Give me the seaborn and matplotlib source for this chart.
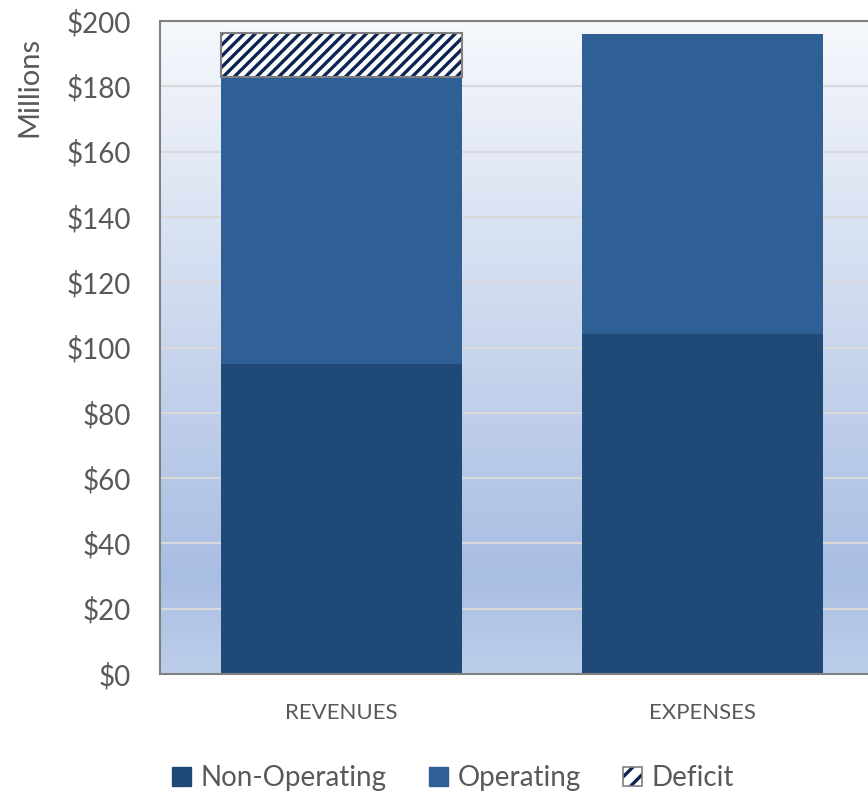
import seaborn as sns
import pandas as pd
import matplotlib.pyplot as plt
import matplotlib.patches as mpatches
from matplotlib.legend_handler import HandlerTuple
from matplotlib.colors import LinearSegmentedColormap
import numpy as np

# values in millions
categories = ["REVENUES", "EXPENSES"]
non_operating = [95.0, 104.2]
operating = [87.7, 91.8]
deficit = [13.7, 0.0]
y_ticks = [0, 20, 40, 60, 80, 100, 120, 140, 160, 180, 200]

dark_blue = "#1F4A78"
mid_blue = "#2E6095"
navy = "#0C2454"
text_grey = "#595959"
edge_grey = "#7F7F7F"

sns.set_style("white")
plt.rcParams["font.family"] = ["Lato", "DejaVu Sans"]
plt.rcParams["hatch.linewidth"] = 2.4

df = pd.DataFrame({"category": categories, "non_operating": non_operating,
                   "operating": operating, "deficit": deficit})
df["op_bottom"] = df["non_operating"]
df["def_bottom"] = df["non_operating"] + df["operating"]

fig = plt.figure(figsize=(8.68, 7.94), dpi=100)
# right side of the plot area runs off the canvas, like the reference crop
ax = fig.add_axes([160 / 868, 120 / 794, 723.5 / 868, 653 / 794])

sns.barplot(ax=ax, data=df, x="category", y="non_operating", order=categories,
            color=dark_blue, width=0.668, saturation=1, linewidth=0, zorder=3)
sns.barplot(ax=ax, data=df, x="category", y="operating", order=categories,
            bottom=df["op_bottom"].values, color=mid_blue, width=0.668,
            saturation=1, linewidth=0, zorder=3)

# deficit only exists on the revenue side
df_def = df[df["deficit"] > 0]
sns.barplot(ax=ax, data=df_def, x="category", y="deficit", order=categories,
            bottom=df_def["def_bottom"].values, color="white", width=0.668,
            saturation=1, hatch="///", edgecolor=navy, linewidth=0, zorder=3)
sns.barplot(ax=ax, data=df_def, x="category", y="deficit", order=categories,
            bottom=df_def["def_bottom"].values, fill=False, width=0.668,
            edgecolor=edge_grey, linewidth=1.5, zorder=4)

ax.set_xlim(-0.503, 1.503)
ax.set_ylim(0, 200)

# gradient background of the plot area
grad = LinearSegmentedColormap.from_list(
    "bg", [(0.0, "#BDCEEA"), (0.15, "#A9BEE3"), (1.0, "#F6F8FC")])
ax.imshow(np.linspace(0, 1, 256).reshape(-1, 1), cmap=grad, aspect="auto",
          extent=[-0.503, 1.503, 0, 200], origin="lower", zorder=0)

ax.set_yticks(y_ticks)
ax.set_yticklabels([f"${v}" for v in y_ticks])
ax.yaxis.grid(True, color="#D9D9D9", linewidth=1.5, zorder=1)
ax.set_axisbelow(False)
for gl in ax.get_ygridlines():
    gl.set_zorder(1)

ax.tick_params(axis="y", length=0, labelsize=20, colors=text_grey, pad=21)
ax.tick_params(axis="x", length=0, labelsize=16, colors=text_grey, pad=21)
ax.set_xlabel("")
ax.set_ylabel("Millions", fontsize=21, color=text_grey)
ax.yaxis.set_label_coords(-0.162, 0.899)

for side in ["top", "left", "bottom", "right"]:
    ax.spines[side].set_visible(True)
    ax.spines[side].set_color("#808080")
    ax.spines[side].set_linewidth(1.5)
    ax.spines[side].set_zorder(5)

def_fill = mpatches.Patch(facecolor="white", edgecolor=navy, hatch="//", linewidth=0)
def_edge = mpatches.Patch(facecolor="none", edgecolor=edge_grey, linewidth=1.2)
handles = [
    mpatches.Patch(facecolor=dark_blue, edgecolor=dark_blue),
    mpatches.Patch(facecolor=mid_blue, edgecolor=mid_blue),
    (def_fill, def_edge),
]
labels = ["Non-Operating", "Operating", "Deficit"]
fig.legend(handles=handles, labels=labels, loc="center",
           bbox_to_anchor=(453 / 868, 1 - 778 / 794),
           handler_map={tuple: HandlerTuple(ndivide=1, pad=0)},
           ncol=3, frameon=False, fontsize=20, handlelength=0.7, handleheight=0.7,
           handletextpad=0.35, columnspacing=1.5, labelcolor=text_grey)

fig.savefig("out.png", dpi=100)
